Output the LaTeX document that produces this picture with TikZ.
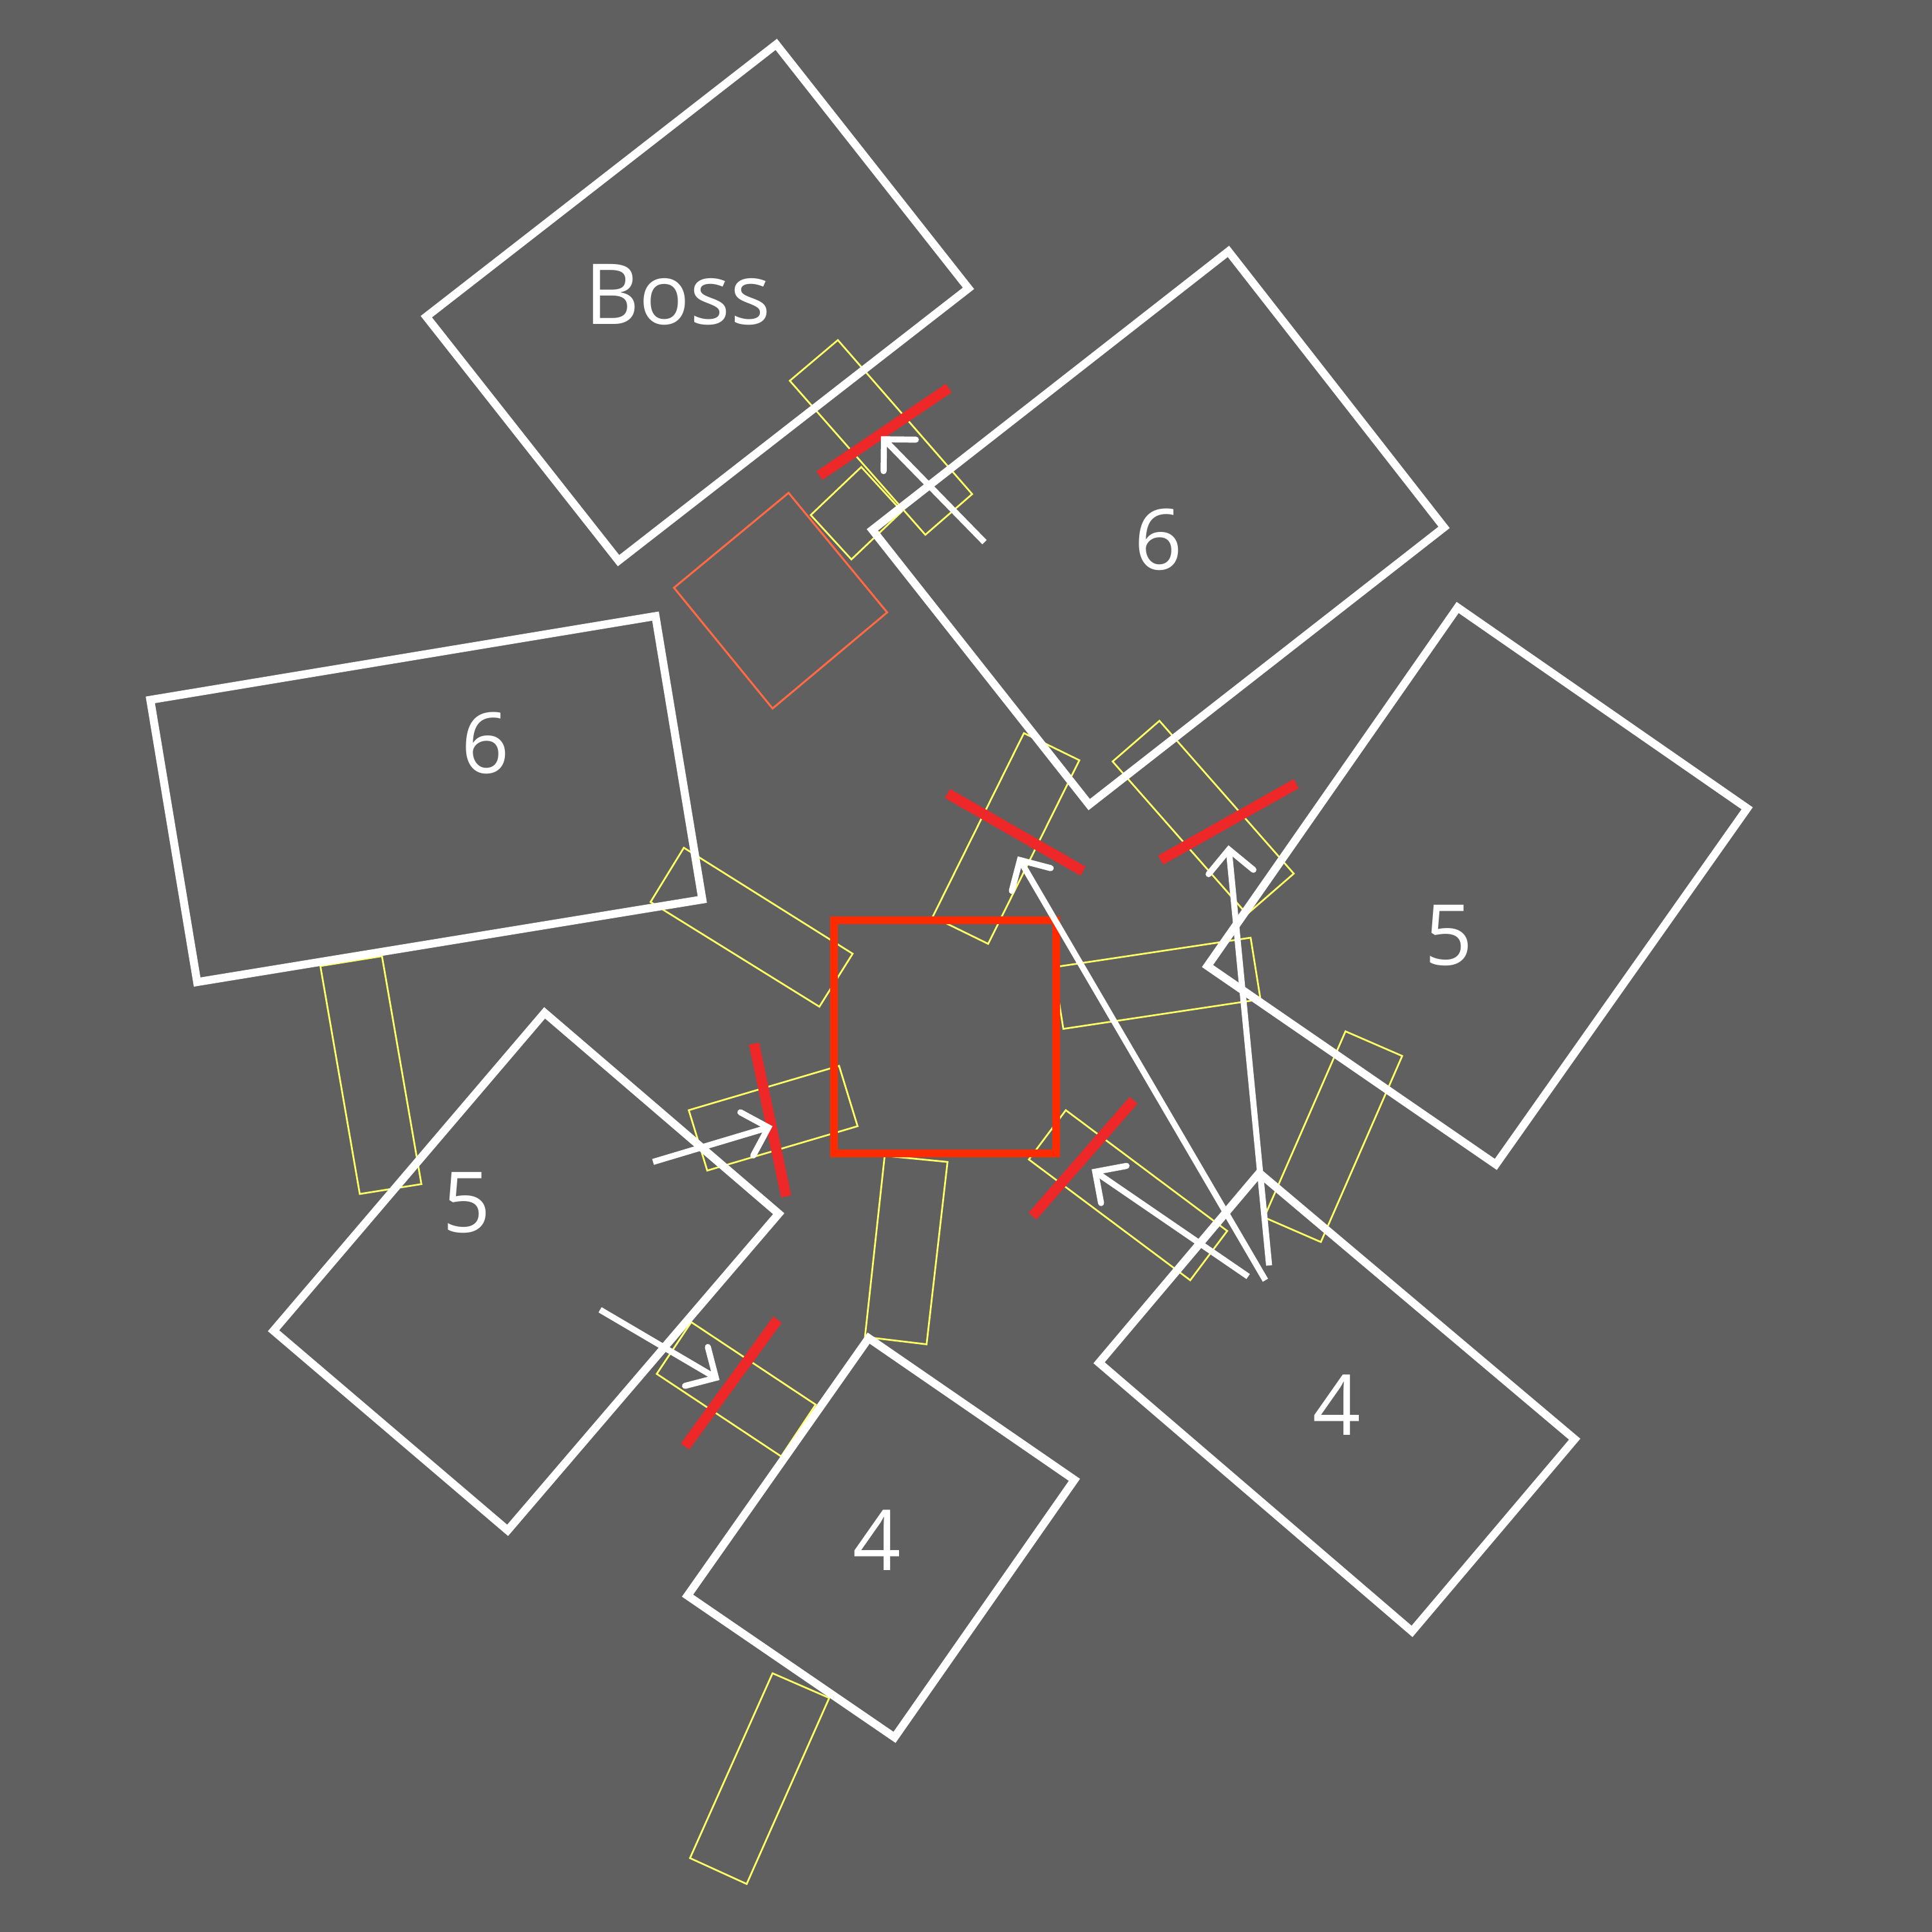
\documentclass[tikz,border=0pt]{standalone}
\usepackage{fontspec}
\setmainfont{Open Sans}
\usetikzlibrary{arrows.meta}
\definecolor{mapbg}{HTML}{606060}
\definecolor{mapyellow}{HTML}{FFFF66}
\definecolor{mapred}{HTML}{EE2828}
\definecolor{maporange}{HTML}{FF6A45}
\definecolor{mapstart}{HTML}{FF2B00}

\begin{document}
\begin{tikzpicture}[x=0.01cm, y=-0.01cm,
    room/.style={draw=white, line width=1.85pt},
    hall/.style={draw=mapyellow, line width=0.4pt},
    door/.style={draw=mapred, line width=2.4pt},
    arrow/.style={-{Straight Barb[length=5.2pt,width=10.4pt,line cap=round,line join=miter]}, draw=white, line width=1.4pt},
    lbl/.style={text=white, inner sep=0pt, font=\fontsize{19.4}{20}\selectfont},
]
    \fill[mapbg] (0,0) rectangle (1568,1568);
    \useasboundingbox (0,0) rectangle (1568,1568);

    % corridors
    \draw[hall] (680,276) -- (789,401) -- (751,434) -- (641,309) -- cycle;
    \draw[hall] (699,379) -- (732,415) -- (691,454) -- (658,418) -- cycle;
    \draw[hall] (831,595) -- (876,617) -- (802,766) -- (757,744) -- cycle;
    \draw[hall] (941,585) -- (1050,709) -- (1012,742) -- (903,618) -- cycle;
    \draw[hall] (555,688) -- (692,774) -- (665,817) -- (528,732) -- cycle;
    \draw[hall] (260,784) -- (310,776) -- (342,961) -- (292,969) -- cycle;
    \draw[hall] (559,901) -- (681,865) -- (696,914) -- (574,950) -- cycle;
    \draw[hall] (855,785) -- (1015,761) -- (1023,811) -- (863,835) -- cycle;
    \draw[hall] (1092,837) -- (1138,857) -- (1072,1008) -- (1026,988) -- cycle;
    \draw[hall] (865,901) -- (996,999) -- (966,1039) -- (835,941) -- cycle;
    \draw[hall] (718,938) -- (769,943) -- (752,1091) -- (702,1085) -- cycle;
    \draw[hall] (561,1073) -- (662,1140) -- (634,1182) -- (533,1115) -- cycle;
    \draw[hall] (627,1358) -- (673,1378) -- (606,1529) -- (560,1508) -- cycle;

    \draw[maporange, line width=0.45pt] (640,400) -- (720,497) -- (627,575) -- (547,477) -- cycle;

    % rooms
    \draw[room] (630,36) -- (786,234) -- (502,455) -- (346,257) -- cycle;
    \draw[room] (997,204) -- (1172,428) -- (884,653) -- (708,430) -- cycle;
    \draw[room] (122,568) -- (532,500) -- (570,730) -- (160,797) -- cycle;
    \draw[room] (1183,493) -- (1418,656) -- (1214,945) -- (980,784) -- cycle;
    \draw[room] (442,822) -- (632,985) -- (412,1242) -- (222,1080) -- cycle;
    \draw[room] (705,1086) -- (872,1201) -- (726,1410) -- (558,1295) -- cycle;
    \draw[room] (1022,952) -- (1278,1168) -- (1146,1324) -- (892,1106) -- cycle;

    \draw[mapstart, line width=1.75pt] (677,747) rectangle (857,936);

    % doors
    \draw[door] (665,386) -- (770,315);
    \draw[door] (769,644) -- (879,707);
    \draw[door] (942,698) -- (1052,636);
    \draw[door] (612,847) -- (638,971);
    \draw[door] (838,987) -- (920,893);
    \draw[door] (556,1174) -- (631,1071);

    % moves
    \draw[arrow] (799,440) -- (715,354);
    \draw[arrow] (1027,1039) -- (826,695);
    \draw[arrow] (1030,1027) -- (997,686);
    \draw[arrow] (1013,1036) -- (886,949);
    \draw[arrow] (530,943) -- (627,914);
    \draw[arrow] (487,1063) -- (584,1120);

    \node[lbl] (boss) at (550,239) {Boss};
    \node[lbl] (sixa) at (940,438) {6};
    \node[lbl] (sixb) at (394,603) {6};
    \node[lbl] (fivea) at (1176,759) {5};
    \node[lbl] (fiveb) at (379,976) {5};
    \node[lbl] (foura) at (712,1250) {4};
    \node[lbl] (fourb) at (1085,1140) {4};
\end{tikzpicture}
\end{document}
